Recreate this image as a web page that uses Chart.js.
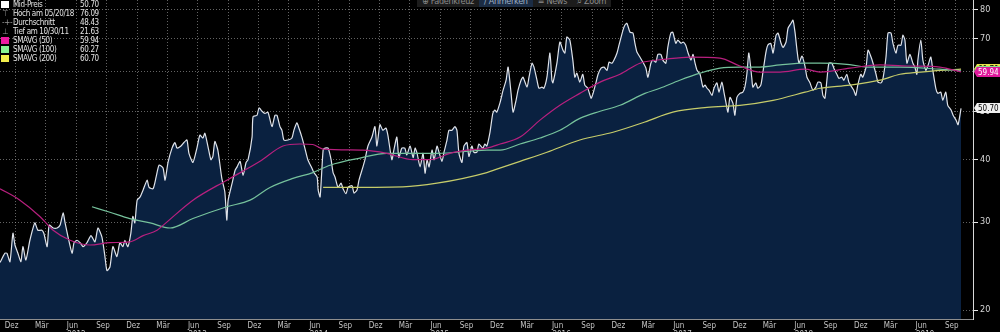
<!DOCTYPE html>
<html lang="de">
<head>
    <meta charset="UTF-8">
    <script src="https://cdn.jsdelivr.net/npm/chart.js@4"></script>
    <title>Mid-Preis</title>
    <style>
        html, body { margin: 0; padding: 0; background: #000; overflow: hidden; }
        #wrap { position: relative; width: 1000px; height: 345px; }
        canvas { display: block; }

        /* Legende oben links */
        #legend {
            position: absolute; left: 0; top: 0;
            font: 8px 'Liberation Sans Narrow', 'DejaVu Sans Condensed', sans-serif;
            letter-spacing: -0.35px;
            color: #e2e2e2;
        }
        #legend .row { position: relative; height: 9px; line-height: 9px; width: 100px; }
        #legend .mk { position: absolute; left: 1px; top: 1px; width: 8px; height: 7px; }
        #legend .sym { position: absolute; left: 2px; top: 0; color: #9a9a9a; font-size: 8px; }
        #legend .lbl { position: absolute; left: 13px; top: 0; }
        #legend .val { position: absolute; left: 80px; top: 0; }

        /* Werkzeugleiste, oben angeschnitten */
        #toolbar {
            position: absolute; top: -5px; left: 417px; display: flex;
            background: #1c1c1c; height: 12px;
            font: 9px 'DejaVu Sans Condensed', sans-serif; color: #8c8c8c;
            letter-spacing: -0.3px;
        }
        #toolbar span { padding: 1px 5px 0 5px; line-height: 11px; }
        #toolbar span.on { background: #1b2c44; color: #9fb0c4; }
    </style>
</head>
<body>
<div id="wrap">
    <canvas id="chart" width="1000" height="345"></canvas>
    <div id="legend"></div>
    <div id="toolbar">
        <span>&#8853; Fadenkreuz</span><span class="on">&#8725; Anmerken</span><span>&#8801; News</span><span>&#8981; Zoom</span>
    </div>
</div>

<script>
    // Tag 0 der x-Achse = 27.10.2011, Werte sind Tage seit diesem Datum
    const startDay = Date.UTC(2011, 9, 27);
    const xMaxDay = 2930;

    // Mid-Preis (Wochenwerte) [Tag, Preis]
    const midPreis = [
        [0,24.9],[15,26.0],[21,26.0],[30,25.0],[39,28.5],[45,27.0],[54,26.0],[63,25.0],[69,26.8],[78,25.2],
        [90,27.6],[105,29.9],[114,28.9],[126,28.9],[132,28.5],[142,26.8],[148,29.6],[160,29.2],[172,29.2],[181,29.6],
        [190,31.3],[196,29.9],[205,28.0],[217,26.0],[223,27.3],[232,27.6],[241,27.3],[250,26.8],[262,27.3],[274,28.2],
        [286,27.4],[295,29.2],[307,28.0],[316,25.6],[322,24.0],[331,24.4],[340,26.8],[352,25.6],[361,27.3],[370,26.8],
        [376,27.6],[385,26.8],[394,28.5],[400,30.8],[406,29.9],[413,33.2],[422,33.7],[431,34.8],[443,36.4],[449,35.2],
        [461,35.0],[470,36.9],[479,39.0],[491,38.5],[497,36.4],[506,39.5],[518,42.2],[527,43.3],[533,42.2],[545,42.6],
        [554,43.3],[563,43.8],[569,41.2],[581,39.5],[593,42.2],[602,44.8],[611,44.2],[617,45.2],[626,42.6],[635,40.0],
        [641,40.6],[647,43.5],[656,41.8],[668,36.7],[677,34.5],[683,30.3],[687,33.2],[699,35.9],[708,38.1],[714,38.7],
        [723,39.7],[732,37.2],[741,39.5],[747,40.0],[759,44.4],[762,48.8],[774,49.1],[780,50.8],[789,50.0],[798,49.5],
        [807,49.8],[819,46.6],[828,49.1],[834,49.1],[843,46.6],[849,45.8],[855,43.8],[867,43.8],[879,44.2],[885,45.8],
        [894,47.4],[900,46.3],[909,44.4],[918,42.2],[927,40.0],[939,38.5],[945,37.7],[955,36.9],[958,34.8],[964,33.7],
        [973,41.8],[979,42.2],[988,42.2],[997,40.0],[1003,37.7],[1009,36.9],[1018,35.2],[1027,35.9],[1033,35.0],[1042,34.2],
        [1048,35.2],[1060,35.5],[1066,34.3],[1075,34.8],[1081,36.4],[1093,38.7],[1099,40.0],[1108,42.6],[1120,44.4],[1129,46.6],
        [1135,42.6],[1144,47.0],[1153,45.8],[1162,46.3],[1168,44.8],[1180,40.0],[1186,41.8],[1195,44.4],[1201,40.4],[1210,42.2],
        [1219,42.2],[1225,40.9],[1235,42.6],[1244,40.4],[1250,42.2],[1256,41.2],[1265,38.7],[1274,41.2],[1280,37.6],[1286,40.0],
        [1292,38.7],[1301,41.8],[1307,40.0],[1316,42.6],[1322,41.4],[1331,39.7],[1337,41.4],[1346,43.8],[1352,45.8],[1361,45.8],
        [1370,46.6],[1376,45.8],[1382,41.2],[1391,39.5],[1397,42.6],[1406,43.3],[1412,40.6],[1421,42.6],[1427,41.4],[1436,41.4],
        [1442,43.0],[1454,42.2],[1460,43.0],[1466,42.6],[1475,45.2],[1484,49.5],[1490,50.3],[1496,49.8],[1506,52.1],[1515,55.1],
        [1524,57.7],[1530,61.3],[1539,54.3],[1545,49.8],[1554,52.6],[1560,55.1],[1569,57.7],[1575,58.5],[1587,55.9],[1593,58.5],
        [1602,62.4],[1608,61.3],[1617,57.7],[1623,55.6],[1632,55.9],[1638,55.6],[1647,58.5],[1656,65.4],[1662,57.7],[1665,57.0],
        [1677,62.4],[1686,68.8],[1695,66.3],[1701,65.4],[1707,70.4],[1716,69.4],[1725,63.3],[1731,58.5],[1737,59.6],[1746,57.2],
        [1755,59.3],[1761,56.4],[1770,55.6],[1780,53.1],[1786,54.3],[1795,57.2],[1801,59.3],[1810,61.0],[1819,61.3],[1828,60.4],
        [1834,62.7],[1843,62.4],[1849,63.3],[1858,65.4],[1864,67.8],[1876,72.7],[1882,74.4],[1888,75.0],[1897,72.0],[1906,71.7],
        [1912,68.4],[1918,65.7],[1927,64.2],[1936,62.7],[1945,61.0],[1951,58.5],[1960,62.4],[1966,63.3],[1975,62.7],[1981,65.0],
        [1990,65.0],[1996,63.3],[2005,62.4],[2011,67.1],[2020,71.7],[2026,72.0],[2035,68.4],[2041,69.4],[2051,68.4],[2057,68.8],
        [2065,67.8],[2072,65.4],[2081,63.3],[2087,65.0],[2093,62.4],[2099,60.4],[2108,59.3],[2117,55.9],[2123,56.4],[2129,55.6],
        [2135,55.1],[2144,53.8],[2150,55.6],[2159,57.0],[2165,54.6],[2174,57.2],[2180,54.6],[2186,52.1],[2192,49.8],[2198,53.3],
        [2207,51.9],[2213,49.1],[2219,53.3],[2228,54.3],[2237,54.6],[2243,55.9],[2249,59.3],[2255,65.4],[2264,58.2],[2267,55.9],
        [2276,57.0],[2282,55.6],[2291,56.4],[2297,59.6],[2306,65.4],[2312,67.8],[2321,68.4],[2328,65.4],[2337,71.0],[2343,71.7],
        [2352,68.4],[2358,67.1],[2367,68.8],[2373,73.3],[2382,75.0],[2388,76.09],[2394,72.0],[2400,66.3],[2406,62.4],[2415,64.5],
        [2424,61.6],[2430,58.5],[2439,57.0],[2448,55.1],[2457,55.9],[2463,57.2],[2472,57.0],[2478,53.8],[2484,53.1],[2490,57.7],
        [2496,62.4],[2505,62.4],[2511,61.0],[2520,59.3],[2526,58.2],[2535,58.5],[2541,57.7],[2550,59.3],[2556,57.2],[2565,55.9],
        [2571,55.1],[2577,53.8],[2583,56.4],[2592,59.3],[2598,58.5],[2608,61.3],[2614,66.3],[2623,64.2],[2629,62.4],[2638,59.3],
        [2644,57.2],[2653,57.0],[2659,58.2],[2668,64.2],[2674,71.7],[2683,71.7],[2689,68.4],[2698,65.4],[2704,67.8],[2713,67.8],
        [2719,71.0],[2725,69.4],[2731,62.4],[2740,65.0],[2749,62.4],[2755,61.3],[2761,59.3],[2764,63.3],[2773,69.4],[2779,63.3],
        [2788,60.4],[2794,61.6],[2803,64.2],[2809,60.4],[2818,55.6],[2824,54.3],[2833,54.6],[2839,52.6],[2848,54.6],[2854,51.4],
        [2864,50.3],[2870,49.1],[2879,48.0],[2885,47.0],[2894,50.70]
    ];

    // gleitende Durchschnitte [Tag, Wert]
    const smavg50 = [
        [0,35.0],[60,33.2],[120,30.8],[160,28.9],[211,27.6],[271,27.0],[331,27.3],[391,27.4],[431,28.2],[473,28.9],
        [497,29.8],[581,33.2],[683,36.4],[783,39.7],[852,42.6],[903,43.0],[942,42.9],[973,42.0],[1093,41.8],[1165,41.2],
        [1244,40.0],[1295,40.0],[1355,41.2],[1406,41.8],[1466,42.2],[1506,43.0],[1566,44.4],[1626,48.0],[1686,51.4],[1746,54.3],
        [1807,57.2],[1867,59.3],[1927,62.4],[2008,63.6],[2078,64.2],[2168,63.9],[2228,61.6],[2288,59.9],[2349,59.9],[2424,60.7],
        [2469,59.9],[2559,61.0],[2650,61.9],[2740,61.6],[2830,61.3],[2894,59.94]
    ];
    const smavg100 = [
        [277,32.2],[331,31.4],[391,30.5],[452,29.9],[512,29.2],[581,30.5],[683,32.2],[753,33.2],[813,35.2],[882,36.7],
        [942,37.7],[994,39.0],[1084,40.3],[1165,41.2],[1316,41.2],[1466,41.8],[1506,41.8],[1566,43.0],[1626,44.2],[1686,45.8],
        [1746,48.4],[1807,50.0],[1867,51.4],[1942,54.3],[1987,55.6],[2047,57.7],[2108,59.6],[2168,61.0],[2228,61.3],[2288,61.3],
        [2349,61.9],[2424,62.4],[2469,62.4],[2559,62.0],[2611,61.3],[2710,61.3],[2830,60.7],[2894,60.27]
    ];
    const smavg200 = [
        [973,35.2],[1213,35.3],[1316,35.9],[1466,37.7],[1496,38.3],[1566,39.7],[1647,41.4],[1746,43.8],[1846,45.4],[1942,47.6],
        [2026,49.8],[2129,50.9],[2228,51.4],[2328,52.6],[2424,54.6],[2469,55.6],[2559,56.4],[2650,57.7],[2710,59.3],[2770,59.9],
        [2830,60.4],[2894,60.70]
    ];

    // Achsen
    const yTicks = [20, 30, 40, 50, 60, 70, 80];
    const quarterMonths = [2, 5, 8, 11];
    const monthNames = { 2: 'Mär', 5: 'Jun', 8: 'Sep', 11: 'Dez' };
    const years = [2011, 2012, 2013, 2014, 2015, 2016, 2017, 2018, 2019];

    // Legende
    const legendRows = [
        ['box', '#ffffff', 'Mid-Preis', '50.70'],
        ['sym', '\u22A4', 'Hoch am 05/20/18', '76.09'],
        ['sym', '-+-', 'Durchschnitt', '48.43'],
        ['sym', '\u22A5', 'Tief am 10/30/11', '21.63'],
        ['box', '#ec1aa0', 'SMAVG (50)', '59.94'],
        ['box', '#86f293', 'SMAVG (100)', '60.27'],
        ['box', '#f2ee4c', 'SMAVG (200)', '60.70']
    ];

    // Wertmarken rechts an der Achse
    const lastTags = [
        { value: 60.70, bg: '#e6e34a', fg: '#000' },
        { value: 60.27, bg: '#86e08e', fg: '#000' },
        { value: 59.94, bg: '#e0189c', fg: '#fff' },
        { value: 50.70, bg: '#f0f0f0', fg: '#000' }
    ];

    const dayOf = (y, m, d) => (Date.UTC(y, m, d) - startDay) / 86400000;
    const labelTicks = [];
    const gridTicks = [];
    const yearTicks = [];
    years.forEach(y => quarterMonths.forEach(m => {
        const a = dayOf(y, m, 1);
        const g = dayOf(y, m, 13);
        if (a >= 0 && a <= xMaxDay) labelTicks.push(a);
        if (g >= 0 && g <= xMaxDay) gridTicks.push(g);
        if (m === 5 && a >= 0 && a <= xMaxDay) yearTicks.push({ day: a, text: String(y) });
    }));

    function tickLabel(v) {
        const dt = new Date(startDay + v * 86400000);
        return monthNames[dt.getUTCMonth()];
    }

    // Legende aufbauen
    const legendEl = document.getElementById('legend');
    legendRows.forEach(r => {
        const row = document.createElement('div');
        row.className = 'row';
        const mark = r[0] === 'box'
            ? `<span class="mk" style="background:${r[1]}"></span>`
            : `<span class="sym">${r[1]}</span>`;
        row.innerHTML = `${mark}<span class="lbl">${r[2]}</span><span class="val">${r[3]}</span>`;
        legendEl.appendChild(row);
    });

    const fontFamily = "'Liberation Sans Narrow', 'DejaVu Sans Condensed', sans-serif";
    const toXY = arr => arr.map(p => ({ x: p[0], y: p[1] }));

    // kein Randabstand fuer Achsenbeschriftungen, Plot soll bis an den Rand gehen
    const noPad = s => { s.paddingTop = 0; s.paddingBottom = 0; s.paddingLeft = 0; s.paddingRight = 0; };

    const blackBg = {
        id: 'blackBg',
        beforeDraw(chart) {
            const { ctx, width, height } = chart;
            ctx.save();
            ctx.fillStyle = '#000';
            ctx.fillRect(0, 0, width, height);
            ctx.restore();
        }
    };

    // Jahreszahlen unter den Jun-Beschriftungen (unten angeschnitten)
    const yearRow = {
        id: 'yearRow',
        afterDraw(chart) {
            const { ctx, chartArea } = chart;
            const xScale = chart.scales.x;
            ctx.save();
            ctx.font = '8px ' + fontFamily;
            ctx.fillStyle = '#c4c4c4';
            ctx.textAlign = 'center';
            ctx.textBaseline = 'top';
            yearTicks.forEach(t => {
                ctx.fillText(t.text, xScale.getPixelForValue(t.day) + 4, chartArea.bottom + 12);
            });
            ctx.restore();
        }
    };

    const tagPlugin = {
        id: 'lastTags',
        afterDraw(chart) {
            const { ctx, chartArea } = chart;
            const yScale = chart.scales.y;
            const left = chartArea.right + 4;
            ctx.save();
            ctx.font = '8px ' + fontFamily;
            ctx.textBaseline = 'middle';
            lastTags.forEach(t => {
                const py = Math.round(yScale.getPixelForValue(t.value));
                ctx.fillStyle = t.bg;
                ctx.beginPath();
                ctx.moveTo(left - 3, py);
                ctx.lineTo(left, py - 5);
                ctx.lineTo(chart.width, py - 5);
                ctx.lineTo(chart.width, py + 5);
                ctx.lineTo(left, py + 5);
                ctx.closePath();
                ctx.fill();
                ctx.fillStyle = t.fg;
                ctx.fillText(t.value.toFixed(2), left + 1, py + 0.5);
            });
            ctx.restore();
        }
    };

    const chart = new Chart(document.getElementById('chart').getContext('2d'), {
        type: 'line',
        data: {
            datasets: [
                {
                    label: 'SMAVG (50)',
                    data: toXY(smavg50),
                    borderColor: '#b8207f',
                    borderWidth: 1.2,
                    pointRadius: 0,
                    tension: 0.4,
                    cubicInterpolationMode: 'monotone',
                    fill: false,
                    order: 1
                },
                {
                    label: 'SMAVG (100)',
                    data: toXY(smavg100),
                    borderColor: '#76c29c',
                    borderWidth: 1.2,
                    pointRadius: 0,
                    tension: 0.4,
                    cubicInterpolationMode: 'monotone',
                    fill: false,
                    order: 2
                },
                {
                    label: 'SMAVG (200)',
                    data: toXY(smavg200),
                    borderColor: '#c6cc6a',
                    borderWidth: 1.2,
                    pointRadius: 0,
                    tension: 0.4,
                    cubicInterpolationMode: 'monotone',
                    fill: false,
                    order: 3
                },
                {
                    label: 'Mid-Preis',
                    data: toXY(midPreis),
                    borderColor: '#dfe3ea',
                    borderWidth: 1.2,
                    backgroundColor: '#0a2140',
                    pointRadius: 0,
                    tension: 0.2,
                    fill: 'start',
                    order: 4
                }
            ]
        },
        options: {
            responsive: false,
            animation: false,
            devicePixelRatio: 1,
            layout: { padding: 0 },
            plugins: {
                legend: { display: false },
                tooltip: { enabled: false }
            },
            scales: {
                x: {
                    type: 'linear',
                    position: 'bottom',
                    min: 0,
                    max: xMaxDay,
                    afterBuildTicks: s => { s.ticks = labelTicks.map(v => ({ value: v })); },
                    afterFit: s => { s.height = 26; noPad(s); },
                    ticks: {
                        color: '#c4c4c4',
                        font: { size: 8, family: fontFamily },
                        padding: 2,
                        maxRotation: 0,
                        autoSkip: false,
                        callback: v => tickLabel(v)
                    },
                    grid: { display: false, drawTicks: false, tickLength: 0 },
                    border: { display: true, color: '#8e8e8e', width: 1 }
                },
                xg: {
                    type: 'linear',
                    position: 'top',
                    min: 0,
                    max: xMaxDay,
                    afterBuildTicks: s => { s.ticks = gridTicks.map(v => ({ value: v })); },
                    afterFit: s => { s.height = 0; noPad(s); },
                    ticks: { display: false },
                    grid: { color: 'rgba(165,165,165,0.6)', lineWidth: 1, drawTicks: false },
                    border: { display: false, dash: [1, 2] }
                },
                y: {
                    type: 'logarithmic',
                    position: 'right',
                    min: 19.2,
                    max: 83.5,
                    afterBuildTicks: s => { s.ticks = yTicks.map(v => ({ value: v })); },
                    afterFit: s => { s.width = 27; noPad(s); },
                    ticks: {
                        color: '#d6d6d6',
                        font: { size: 9, family: fontFamily },
                        padding: 2,
                        callback: v => String(v)
                    },
                    grid: {
                        color: 'rgba(165,165,165,0.6)',
                        lineWidth: 1,
                        tickLength: 5,
                        tickColor: '#e6e6e6',
                        tickWidth: 1,
                        tickBorderDash: []
                    },
                    border: { display: true, color: '#d8d8d8', width: 1, dash: [1, 2] }
                }
            }
        },
        plugins: [blackBg, yearRow, tagPlugin]
    });
</script>
</body>
</html>
